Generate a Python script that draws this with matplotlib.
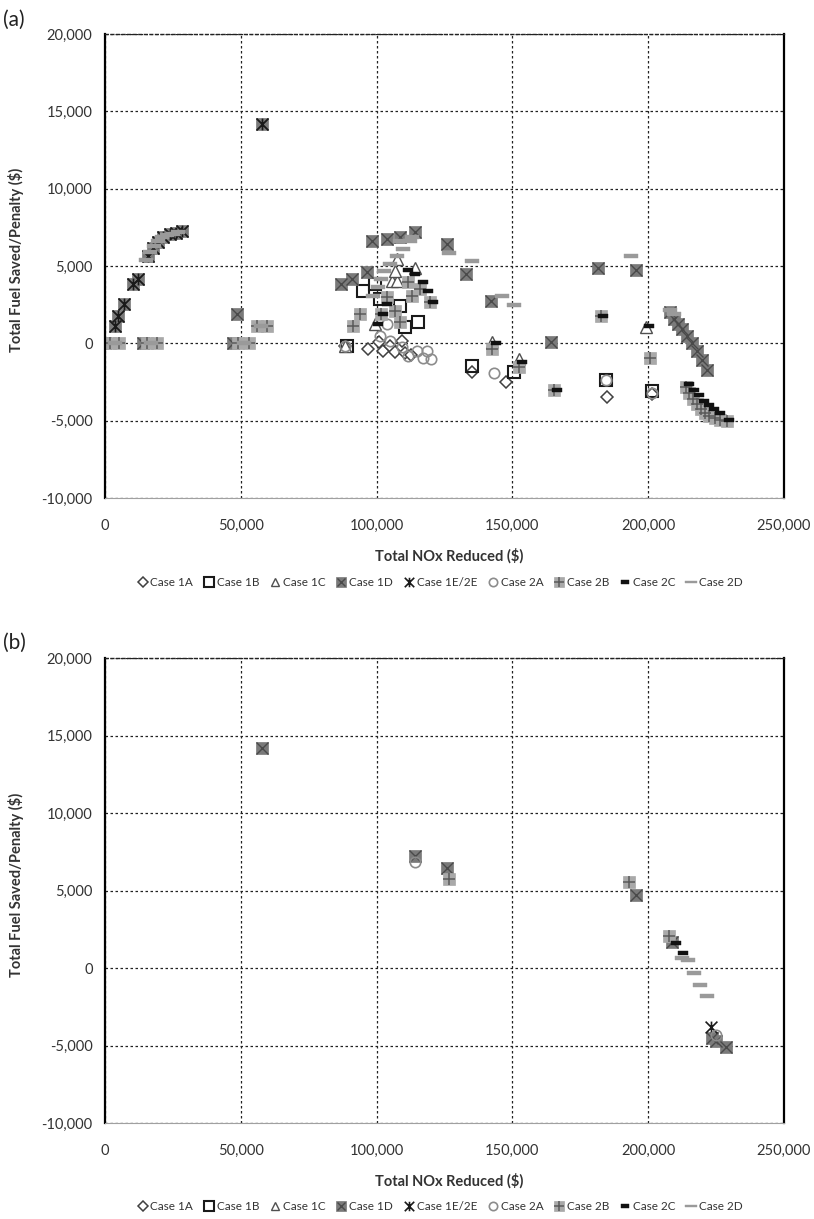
import matplotlib
matplotlib.use("Agg")
import matplotlib.pyplot as plt
from matplotlib.lines import Line2D
from matplotlib.path import Path
from matplotlib.ticker import FuncFormatter

plt.rcParams['font.family'] = ['Lato', 'DejaVu Sans']

# ---- panel (a) data ----
a_1a_x = [88200, 96700, 101000, 102200, 105000, 106600, 109200, 110500, 112500, 135000, 147800, 185000, 201500]
a_1a_y = [-190, -390, 90, -520, -200, -580, 130, -650, -780, -1880, -2500, -3500, -3300]

a_1b_x = [89000, 94900, 99300, 101100, 108500, 110300, 115400, 135000, 150700, 184600, 201500]
a_1b_y = [-190, 3370, 3830, 2840, 2400, 1030, 1360, -1490, -1880, -2390, -3100]

a_1c_x = [88200, 99300, 105500, 107400, 106600, 107400, 114000, 142600, 152600, 199300]
a_1c_y = [-190, 1230, 4030, 4030, 4680, 5450, 4900, 100, -1040, 1030]

a_1d_x = [0, 3700, 4800, 7000, 10300, 12100, 15800, 17500, 19500, 21500, 24000, 26000, 28300,
          14000, 47000, 48500, 57700,
          87000, 90800, 96300, 98200, 104000, 108500, 114000, 126000, 133000, 142300, 164300, 181600, 195600,
          208100, 209500, 211000, 212500, 214200, 216000, 217800, 219800, 221800]
a_1d_y = [0, 1100, 1750, 2530, 3830, 4150, 5650, 6150, 6550, 6850, 7050, 7150, 7270,
          0, 0, 1880, 14200,
          3830, 4150, 4600, 6620, 6750, 6880, 7200, 6430, 4480, 2730, 60, 4900, 4740,
          2000, 1600, 1250, 900, 450, 0, -500, -1050, -1700]

a_1e_x = [3700, 4800, 7000, 10300, 12100, 15800, 17500, 19500, 21500, 24000, 26000, 28300, 57700]
a_1e_y = [1100, 1750, 2530, 3830, 4150, 5650, 6150, 6550, 6850, 7050, 7150, 7270, 14200]

a_2a_x = [88200, 101100, 103700, 104800, 109200, 111400, 114700, 116900, 118400, 120200, 143400, 184600, 201500]
a_2a_y = [-190, 450, 1230, 130, -260, -840, -520, -970, -520, -1040, -1950, -2400, -3200]

a_2b_x = [2000, 5000, 15500, 19000, 49000, 53000, 56000, 59500,
          91200, 93800, 101800, 104000, 106600, 108500, 111400, 113200, 115800, 119500,
          142600, 152600, 165400, 182700, 200700,
          213800, 215000, 216500, 218000, 219500, 221000, 222500, 224500, 226500, 229000]
a_2b_y = [0, 0, 0, 0, 0, 0, 1100, 1100,
          1100, 1880, 1880, 2970, 2070, 1360, 3960, 3050, 3500, 2650,
          -390, -1500, -2990, 1750, -970,
          -2800, -3200, -3600, -3950, -4250, -4500, -4700, -4850, -4950, -5000]

a_2c_x = [100400, 102200, 103700, 111400, 114000, 116900, 118800, 120600,
          143800, 153700, 166500, 183500, 200400,
          215000, 216800, 218600, 220400, 222300, 224200, 226300, 229800]
a_2c_y = [1230, 1880, 2530, 4740, 4480, 3960, 3370, 2650,
          0, -1230, -2990, 1750, 1100,
          -2650, -3000, -3350, -3700, -4000, -4250, -4500, -4950]

a_2d_x = [3500, 17000, 51000, 57500,
          15000, 16500, 18000, 19500, 21000, 23000, 25000, 27000,
          98500, 100400, 101800, 102900, 104800, 107400, 108500, 109600, 112200, 113200,
          126800, 135300, 146000, 150700, 193800, 208000, 209500]
a_2d_y = [0, 0, 0, 1100,
          5400, 5900, 6300, 6600, 6850, 7000, 7100, 7200,
          3050, 3630, 4160, 4680, 5130, 5650, 6620, 6100, 6620, 6880,
          5840, 5320, 3050, 2470, 5650, 2150, 1900]

# ---- panel (b) data ----
b_1d_x = [57700, 114000, 126100, 195600, 208800, 223600, 225000, 228700]
b_1d_y = [14200, 7240, 6450, 4710, 1680, -4500, -4700, -5100]
b_1e_x = [223200]
b_1e_y = [-3800]
b_2a_x = [114000, 225000]
b_2a_y = [6840, -4300]
b_2b_x = [126500, 193000, 207700]
b_2b_y = [5740, 5550, 2060]
b_2c_x = [210300, 212900]
b_2c_y = [1600, 970]
b_2d_x = [212500, 214500, 216900, 219100, 221600]
b_2d_y = [650, 500, -320, -1100, -1810]

labels = ['Case 1A', 'Case 1B', 'Case 1C', 'Case 1D', 'Case 1E/2E',
          'Case 2A', 'Case 2B', 'Case 2C', 'Case 2D']

dash_short = [(-1, -0.45), (1, -0.45), (1, 0.45), (-1, 0.45), (-1, -0.45)]
dash_long = [(-1, -0.22), (1, -0.22), (1, 0.22), (-1, 0.22), (-1, -0.22)]
# Excel style star: an X with a vertical stroke through it
star = Path([(-1, -1), (1, 1), (-1, 1), (1, -1), (0, -1), (0, 1)],
            [Path.MOVETO, Path.LINETO, Path.MOVETO, Path.LINETO, Path.MOVETO, Path.LINETO])

# marker layers for every case
styles = {
    'Case 1A': [dict(marker='D', ms=6.5, mfc='white', mec='#404040', mew=1.1)],
    'Case 1B': [dict(marker='s', ms=8.5, mfc='none', mec='#1a1a1a', mew=1.5)],
    'Case 1C': [dict(marker='^', ms=8, mfc='white', mec='#505050', mew=1.0)],
    'Case 1D': [dict(marker='s', ms=9, mfc='#7a7a7a', mec='#7a7a7a', mew=0.5),
                dict(marker='x', ms=8, mfc='none', mec='#4a4a4a', mew=1.0)],
    'Case 1E/2E': [dict(marker=star, ms=8.5, mfc='none', mec='#1a1a1a', mew=1.2)],
    'Case 2A': [dict(marker='o', ms=7.5, mfc='none', mec='#8c8c8c', mew=1.2)],
    'Case 2B': [dict(marker='s', ms=9, mfc='#a9a9a9', mec='#a9a9a9', mew=0.5),
                dict(marker='+', ms=9, mfc='none', mec='#5a5a5a', mew=1.1)],
    'Case 2C': [dict(marker=dash_short, ms=7.5, mfc='#111111', mec='#111111', mew=0.3)],
    'Case 2D': [dict(marker=dash_long, ms=10, mfc='#9a9a9a', mec='#9a9a9a', mew=0.3)],
}


def plot_case(ax, x, y, name):
    for st in styles[name]:
        ax.plot(x, y, linestyle='none', **st)


def setup_axes(ax):
    ax.set_xlim(0, 250000)
    ax.set_ylim(-10000, 20000)
    ax.set_xticks(range(0, 250001, 50000))
    ax.set_yticks(range(-10000, 20001, 5000))
    fmt = FuncFormatter(lambda v, p: '{:,.0f}'.format(v))
    ax.xaxis.set_major_formatter(fmt)
    ax.yaxis.set_major_formatter(fmt)
    ax.grid(True, linestyle=(0, (2, 2)), color='#222222', linewidth=0.9)
    ax.set_axisbelow(True)
    ax.tick_params(length=0, labelsize=10.5, colors='#333333')
    ax.tick_params(axis='x', pad=15)
    ax.tick_params(axis='y', pad=9)
    ax.spines['left'].set_color('black')
    ax.spines['left'].set_linewidth(1.6)
    ax.spines['right'].set_color('black')
    ax.spines['right'].set_linewidth(1.6)
    ax.spines['top'].set_linestyle((0, (2, 2)))
    ax.spines['top'].set_linewidth(1.0)
    ax.spines['top'].set_color('#222222')
    ax.spines['bottom'].set_color('#a0a0a0')
    ax.spines['bottom'].set_linewidth(0.8)


fig = plt.figure(figsize=(8.14, 12.19), dpi=100)
ax_a = fig.add_axes([105 / 814, 1 - 498 / 1219, 679 / 814, 464 / 1219])
ax_b = fig.add_axes([105 / 814, 1 - 1123 / 1219, 679 / 814, 465 / 1219])

for ax in (ax_a, ax_b):
    setup_axes(ax)

# panel (a)
plot_case(ax_a, a_1a_x, a_1a_y, 'Case 1A')
plot_case(ax_a, a_1b_x, a_1b_y, 'Case 1B')
plot_case(ax_a, a_1c_x, a_1c_y, 'Case 1C')
plot_case(ax_a, a_1d_x, a_1d_y, 'Case 1D')
plot_case(ax_a, a_1e_x, a_1e_y, 'Case 1E/2E')
plot_case(ax_a, a_2a_x, a_2a_y, 'Case 2A')
plot_case(ax_a, a_2b_x, a_2b_y, 'Case 2B')
plot_case(ax_a, a_2c_x, a_2c_y, 'Case 2C')
plot_case(ax_a, a_2d_x, a_2d_y, 'Case 2D')

# panel (b)
plot_case(ax_b, b_1d_x, b_1d_y, 'Case 1D')
plot_case(ax_b, b_1e_x, b_1e_y, 'Case 1E/2E')
plot_case(ax_b, b_2a_x, b_2a_y, 'Case 2A')
plot_case(ax_b, b_2b_x, b_2b_y, 'Case 2B')
plot_case(ax_b, b_2c_x, b_2c_y, 'Case 2C')
plot_case(ax_b, b_2d_x, b_2d_y, 'Case 2D')

# legend handles (smaller markers)
handles = []
for name in labels:
    parts = []
    for st in styles[name]:
        st2 = dict(st)
        st2['ms'] = st['ms'] * 0.8
        parts.append(Line2D([], [], linestyle='none', **st2))
    handles.append(tuple(parts))

for ax, lab, ylab_y, xlab_y, leg_y, tag_y in (
        (ax_a, '(a)', 260, 556, 583, 20),
        (ax_b, '(b)', 885, 1181, 1207, 643)):
    fig.text(449 / 814, 1 - xlab_y / 1219, 'Total NOx Reduced ($)', ha='center', va='center',
             fontsize=10.5, fontweight='bold', color='#333333')
    fig.text(16 / 814, 1 - ylab_y / 1219, 'Total Fuel Saved/Penalty ($)', ha='center', va='center',
             rotation=90, fontsize=10.5, fontweight='bold', color='#333333')
    fig.text(3 / 814, 1 - tag_y / 1219, lab, ha='left', va='center', fontsize=15, color='#222222')
    fig.legend(handles, labels, loc='center', bbox_to_anchor=(440 / 814, 1 - leg_y / 1219),
               ncol=9, frameon=False, fontsize=8.5, handlelength=0.9, handletextpad=0.2,
               columnspacing=0.9, labelcolor='#333333')

fig.savefig('out.png', dpi=100)
